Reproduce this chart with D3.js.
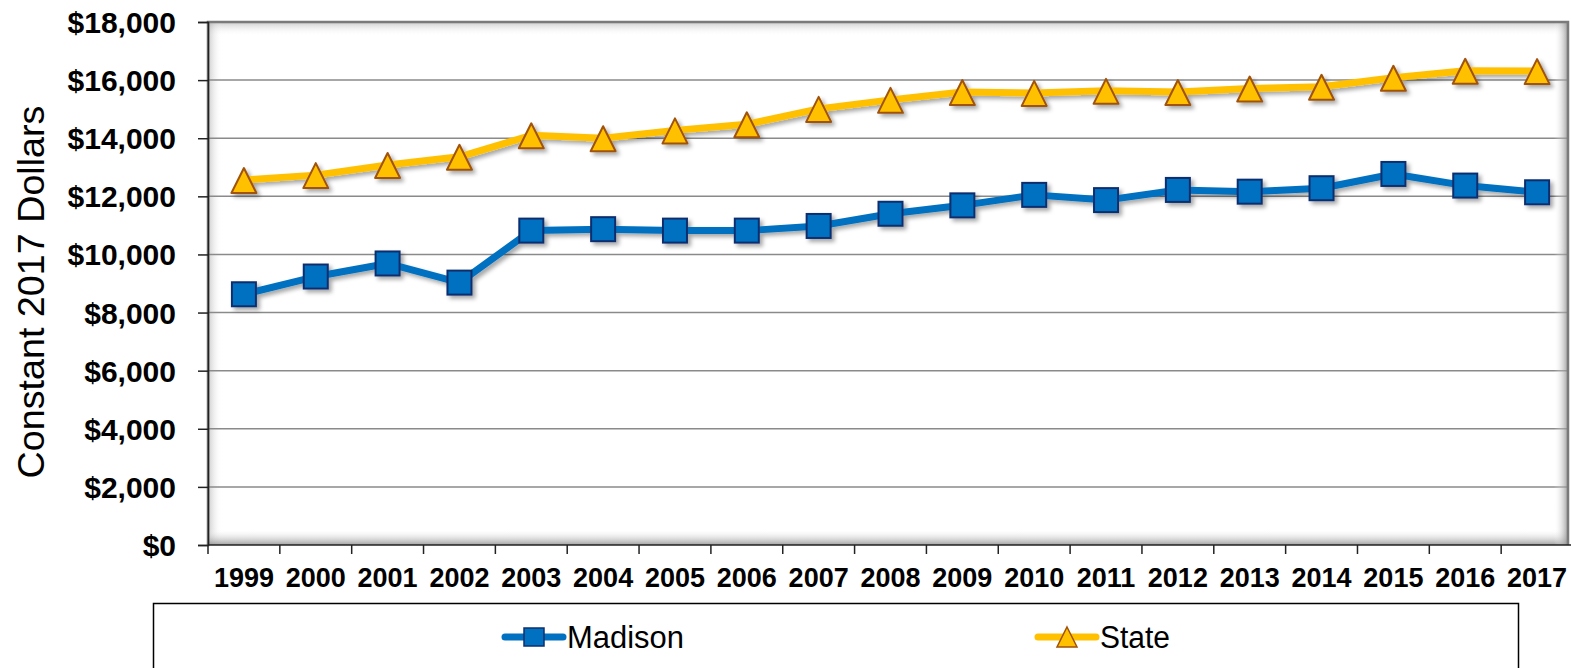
<!DOCTYPE html>
<html><head><meta charset="utf-8">
<script src="https://cdn.jsdelivr.net/npm/d3@7"></script>
<style>
html,body{margin:0;padding:0;background:#fff;}
svg{display:block;font-family:Arial,"Liberation Sans",sans-serif;}
</style></head>
<body>
<svg id="chart" width="1571" height="668"></svg>
<script>
const years = ["1999","2000","2001","2002","2003","2004","2005","2006","2007","2008","2009","2010","2011","2012","2013","2014","2015","2016","2017"];
const madison = [8630,9240,9690,9030,10820,10870,10820,10820,10980,11400,11690,12050,11870,12220,12160,12280,12770,12370,12140];
const state = [12560,12730,13080,13360,14100,14000,14270,14480,15010,15320,15590,15560,15630,15590,15710,15770,16080,16320,16310];
const yTicks = [0,2000,4000,6000,8000,10000,12000,14000,16000,18000];
const seriesNames = ["Madison","State"];

const svg = d3.select("#chart");
const L = 208, R = 1573, T = 22, B = 545;
const x = d3.scaleBand().domain(years).range([L, R]).padding(0);
const y = d3.scaleLinear().domain([0, 18000]).range([B, T]);
const cx = d => x(d) + x.bandwidth() / 2;

const defs = svg.append("defs");
const f = defs.append("filter").attr("id","shadow").attr("x","-10%").attr("y","-10%").attr("width","130%").attr("height","130%");
f.append("feDropShadow").attr("dx",3).attr("dy",3).attr("stdDeviation",2).attr("flood-color","#000").attr("flood-opacity",0.35);
function grad(id, x1,y1,x2,y2, c, op){
  const g = defs.append("linearGradient").attr("id",id).attr("x1",x1).attr("y1",y1).attr("x2",x2).attr("y2",y2);
  g.append("stop").attr("offset","0").attr("stop-color",c).attr("stop-opacity",op);
  g.append("stop").attr("offset","1").attr("stop-color","#fff").attr("stop-opacity",0);
}
grad("gBottom",0,1,0,0,"#888",0.8);
grad("gRight",1,0,0,0,"#888",0.8);
grad("gTop",0,0,0,1,"#999",0.5);
grad("gLeft",0,0,1,0,"#999",0.5);

const RF = 1568;
svg.append("rect").attr("x",L).attr("y",T).attr("width",RF-L).attr("height",B-T).attr("fill","#fff");
svg.append("rect").attr("x",L).attr("y",T).attr("width",RF-L).attr("height",14).attr("fill","url(#gTop)");
svg.append("rect").attr("x",L).attr("y",T).attr("width",14).attr("height",B-T).attr("fill","url(#gLeft)");

svg.append("g").selectAll("line").data(yTicks.slice(1)).join("line")
  .attr("x1",L).attr("x2",RF).attr("y1",d=>y(d)).attr("y2",d=>y(d))
  .attr("stroke","#8a8a8a").attr("stroke-width",1.5);

svg.append("rect").attr("x",L).attr("y",B-16).attr("width",RF-L).attr("height",16).attr("fill","url(#gBottom)");
svg.append("rect").attr("x",RF-14).attr("y",T).attr("width",14).attr("height",B-T).attr("fill","url(#gRight)");

svg.append("path").attr("d",`M${L},${B} V${T} H${RF} V${B}`).attr("fill","none").attr("stroke","#7a7a7a").attr("stroke-width",2.5);

// y axis
const yAxis = d3.axisLeft(y).tickValues(yTicks).tickSize(10).tickPadding(22)
  .tickFormat(d => "$" + d3.format(",")(d));
const gy = svg.append("g").attr("transform",`translate(${L},0)`).call(yAxis);
gy.select(".domain").attr("stroke","#222").attr("stroke-width",1.5);
gy.selectAll(".tick line").attr("stroke","#222").attr("stroke-width",1.5);
gy.selectAll("text").attr("font-size","30px").attr("font-weight","bold").attr("fill","#000")
  .attr("font-family","Arial,'Liberation Sans',sans-serif").attr("dy","0.35em");

// x axis
const xt = d3.scaleLinear().domain([0, years.length]).range([L, R]);
svg.append("line").attr("x1",L).attr("x2",RF+3).attr("y1",B).attr("y2",B).attr("stroke","#222").attr("stroke-width",1.5);
svg.append("g").selectAll("line").data(d3.range(years.length+1)).join("line")
  .attr("x1",d=>xt(d)).attr("x2",d=>xt(d)).attr("y1",B).attr("y2",B+9).attr("stroke","#222").attr("stroke-width",1.5);
svg.append("g").selectAll("text").data(years).join("text")
  .attr("x",d=>cx(d)).attr("y",587).attr("text-anchor","middle")
  .attr("font-size","27px").attr("font-weight","bold").attr("fill","#000").text(d=>d);

// y title
svg.append("text").attr("transform","translate(44,292) rotate(-90)").attr("text-anchor","middle")
  .attr("font-size","37.7px").attr("fill","#000").text("Constant 2017 Dollars");

// series
const line = d3.line().x((d,i)=>cx(years[i])).y(d=>y(d));

const gS = svg.append("g").attr("filter","url(#shadow)");
gS.append("path").datum(state).attr("d",line).attr("fill","none").attr("stroke","#FFC000").attr("stroke-width",7).attr("stroke-linejoin","round");
gS.selectAll("path.m").data(state).join("path").attr("class","m")
  .attr("transform",(d,i)=>`translate(${cx(years[i])},${y(d)+1})`)
  .attr("d","M0,-13 L12.5,12 L-12.5,12 Z")
  .attr("fill","#FFC000").attr("stroke","#A0520A").attr("stroke-width",2).attr("stroke-linejoin","round");

const gM = svg.append("g").attr("filter","url(#shadow)");
gM.append("path").datum(madison).attr("d",line).attr("fill","none").attr("stroke","#0070C0").attr("stroke-width",7).attr("stroke-linejoin","round");
gM.selectAll("rect").data(madison).join("rect")
  .attr("x",(d,i)=>cx(years[i])-12).attr("y",d=>y(d)-12).attr("width",24).attr("height",24)
  .attr("fill","#0070C0").attr("stroke","#0F2F6E").attr("stroke-width",2);

// legend
svg.append("rect").attr("x",153.5).attr("y",603.5).attr("width",1365).attr("height",80)
  .attr("fill","#fff").attr("stroke","#000").attr("stroke-width",1.5);
const leg = [
  {name: seriesNames[0], x0: 505, color:"#0070C0", stroke:"#0F2F6E", shape:"sq", tx:567, tw:117},
  {name: seriesNames[1], x0: 1038, color:"#FFC000", stroke:"#A0520A", shape:"tri", tx:1100, tw:70}
];
const lg = svg.append("g");
leg.forEach(e => {
  lg.append("line").attr("x1",e.x0).attr("x2",e.x0+58).attr("y1",637).attr("y2",637)
    .attr("stroke",e.color).attr("stroke-width",7).attr("stroke-linecap","round");
  if (e.shape==="sq") {
    lg.append("rect").attr("x",e.x0+19).attr("y",628).attr("width",20).attr("height",18)
      .attr("fill",e.color).attr("stroke",e.stroke).attr("stroke-width",1.5);
  } else {
    lg.append("path").attr("d",`M${e.x0+29},627 L${e.x0+39},647 L${e.x0+19},647 Z`)
      .attr("fill",e.color).attr("stroke",e.stroke).attr("stroke-width",1.5);
  }
  lg.append("text").attr("x",e.tx).attr("y",648).attr("font-size","31px").attr("fill","#000")
    .attr("textLength",e.tw).attr("lengthAdjust","spacingAndGlyphs").text(e.name);
});
</script>
</body></html>
